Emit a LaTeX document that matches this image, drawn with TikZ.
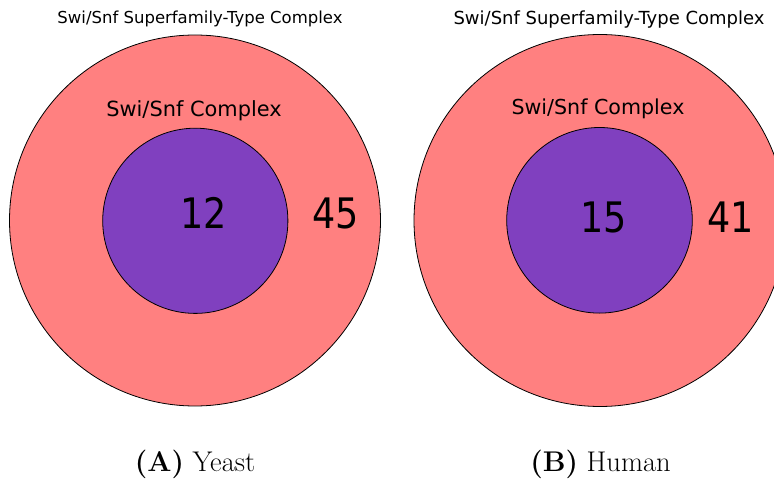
\documentclass[tikz,border=0pt]{standalone}
\usepackage{fontspec}
\newfontfamily\dv{DejaVu Sans}
\definecolor{outerpink}{HTML}{FF8080}
\definecolor{innerpurple}{HTML}{8040BF}
\begin{document}
\begin{tikzpicture}[x=1pt,y=-1pt,
  outer/.style={draw=black,line width=0.8pt,fill=outerpink},
  inner/.style={draw=black,line width=0.8pt,fill=innerpurple},
  lbl/.style={inner sep=0pt,anchor=base},
  num/.style={inner sep=0pt,anchor=center,font=\dv\fontsize{42}{46}\selectfont},
  captext/.style={inner sep=0pt,anchor=base,font=\fontsize{28.5}{32}\selectfont}]
\useasboundingbox (0,0) rectangle (774,481);
% left
\path[outer] (195,220.5) circle (185.5);
\path[inner] (195.3,220.8) circle (92.6);
\node[lbl,font=\dv\fontsize{16.5}{20}\selectfont] (t1) at (200,24) {Swi/Snf Superfamily-Type Complex};
\node[lbl,font=\dv\fontsize{20.9}{25}\selectfont] (s1) at (194,116.5) {Swi/Snf Complex};
\node[num] (n12) at (203.3,213) {\scalebox{0.87}[1]{12}};
\node[num] (n45) at (336,213) {\scalebox{0.87}[1]{45}};
\node[captext] (c1) at (195,471) {\textbf{(A)} Yeast};
% right
\path[outer] (600,220.5) circle (186);
\path[inner] (599.5,220.3) circle (92.8);
\node[lbl,font=\dv\fontsize{18}{22}\selectfont] (t2) at (609,25) {Swi/Snf Superfamily-Type Complex};
\node[lbl,font=\dv\fontsize{20.6}{25}\selectfont] (s2) at (598,115) {Swi/Snf Complex};
\node[num] (n15) at (604,217) {\scalebox{0.87}[1]{15}};
\node[num] (n41) at (730.5,217) {\scalebox{0.87}[1]{41}};
\node[captext] (c2) at (600.5,471) {\textbf{(B)} Human};
\end{tikzpicture}
\end{document}
